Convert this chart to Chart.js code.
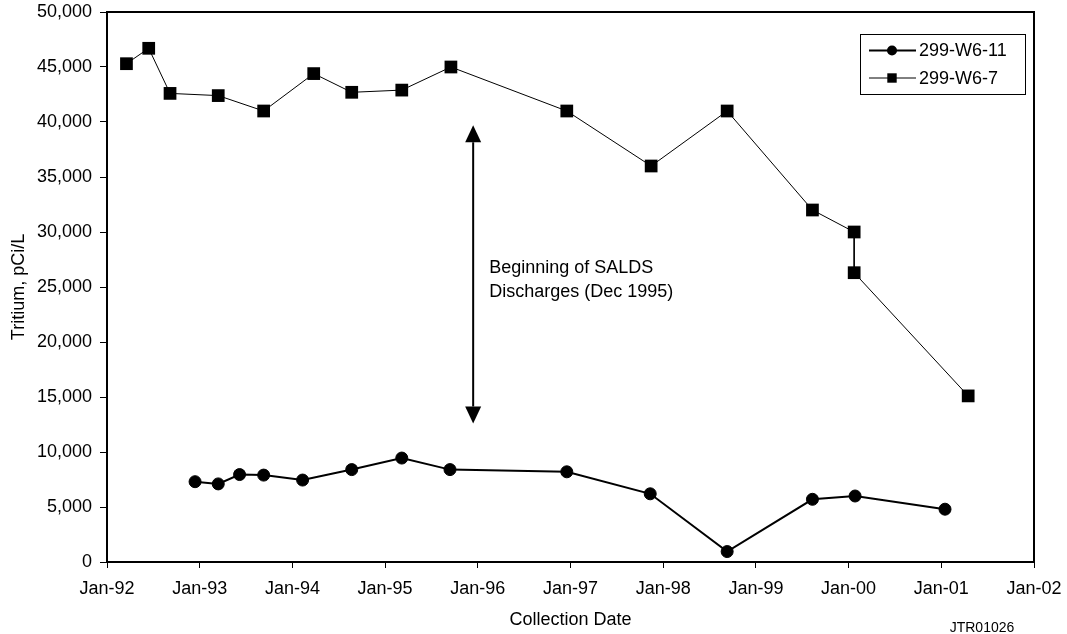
<!DOCTYPE html>
<html>
<head>
<meta charset="utf-8">
<script src="https://cdn.jsdelivr.net/npm/chart.js@4.4.1/dist/chart.umd.min.js"></script>
<style>
  html, body { margin: 0; padding: 0; background: #fff; }
  #wrap { position: relative; width: 1067px; height: 634px; }
  #tag {
    position: absolute; left: 940px; top: 618px; width: 84px;
    text-align: center; font: 14px Arial, 'Liberation Sans', sans-serif;
    line-height: 18px; color: #000;
  }
</style>
</head>
<body>
<div id="wrap">
  <canvas id="chart" width="1067" height="634"></canvas>
  <div id="tag">JTR01026</div>
</div>
<script>
// collection dates as decimal years, values in pCi/L
const w611Dates = [1992.95, 1993.20, 1993.43, 1993.69, 1994.11, 1994.64, 1995.18, 1995.70,
                   1996.96, 1997.86, 1998.69, 1999.61, 2000.07, 2001.04];
const w611Values = [7300, 7100, 7950, 7900, 7450, 8400, 9450, 8400,
                    8200, 6200, 950, 5700, 6000, 4800];

const w67Dates = [1992.21, 1992.45, 1992.68, 1993.20, 1993.69, 1994.23, 1994.64, 1995.18,
                  1995.71, 1996.96, 1997.87, 1998.69, 1999.61, 2000.06, 2000.06, 2001.29];
const w67Values = [45300, 46700, 42600, 42400, 41000, 44400, 42700, 42900,
                   45000, 41000, 36000, 41000, 32000, 30000, 26300, 15100];

const xTickLabels = ['Jan-92', 'Jan-93', 'Jan-94', 'Jan-95', 'Jan-96', 'Jan-97',
                     'Jan-98', 'Jan-99', 'Jan-00', 'Jan-01', 'Jan-02'];

// SALDS start marker
const arrowDate = 1995.95;
const arrowFrom = 12600;
const arrowTo = 39700;
const noteLines = ['Beginning of SALDS', 'Discharges (Dec 1995)'];
const noteValue = 26700;

const FONT = "Arial, 'Liberation Sans', sans-serif";

const toPoints = (xs, ys) => xs.map((x, i) => ({ x: x, y: ys[i] }));

const framePlugin = {
  id: 'frame',
  beforeDatasetsDraw(chart) {
    const { ctx, chartArea: a } = chart;
    ctx.save();
    ctx.strokeStyle = '#000';
    ctx.lineWidth = 2;
    ctx.strokeRect(a.left, a.top, a.right - a.left, a.bottom - a.top);
    ctx.restore();
  }
};

const arrowPlugin = {
  id: 'saldsArrow',
  afterDatasetsDraw(chart) {
    const { ctx, scales: { x, y } } = chart;
    const px = x.getPixelForValue(arrowDate);
    const yTop = y.getPixelForValue(arrowTo);
    const yBot = y.getPixelForValue(arrowFrom);
    const head = 17, half = 8;
    ctx.save();
    ctx.strokeStyle = '#000';
    ctx.fillStyle = '#000';
    ctx.lineWidth = 2;
    ctx.beginPath();
    ctx.moveTo(px, yTop + head);
    ctx.lineTo(px, yBot - head);
    ctx.stroke();
    ctx.beginPath();
    ctx.moveTo(px, yTop);
    ctx.lineTo(px - half, yTop + head);
    ctx.lineTo(px + half, yTop + head);
    ctx.closePath();
    ctx.fill();
    ctx.beginPath();
    ctx.moveTo(px, yBot);
    ctx.lineTo(px - half, yBot - head);
    ctx.lineTo(px + half, yBot - head);
    ctx.closePath();
    ctx.fill();

    ctx.font = '18px ' + FONT;
    ctx.textAlign = 'left';
    ctx.textBaseline = 'middle';
    const ty = y.getPixelForValue(noteValue);
    noteLines.forEach((t, i) => ctx.fillText(t, px + 16, ty + i * 24));
    ctx.restore();
  }
};

const legendPlugin = {
  id: 'boxLegend',
  afterDraw(chart) {
    const { ctx, chartArea: a } = chart;
    const w = 165, h = 60;
    const left = a.right - 9 - w, top = a.top + 22;
    ctx.save();
    ctx.fillStyle = '#fff';
    ctx.fillRect(left, top, w, h);
    ctx.strokeStyle = '#000';
    ctx.lineWidth = 1;
    ctx.strokeRect(left + 0.5, top + 0.5, w, h);

    chart.data.datasets.forEach((ds, i) => {
      const ry = top + 16.5 + i * 27.5;
      const mx = left + 32;
      ctx.lineWidth = ds.borderWidth;
      ctx.beginPath();
      ctx.moveTo(left + 9, ry);
      ctx.lineTo(left + 56, ry);
      ctx.stroke();
      ctx.fillStyle = '#000';
      ctx.beginPath();
      if (ds.pointStyle === 'circle') {
        ctx.arc(mx, ry, 5, 0, Math.PI * 2);
      } else {
        ctx.rect(mx - 4.7, ry - 4.7, 9.4, 9.4);
      }
      ctx.fill();
      ctx.font = '18px ' + FONT;
      ctx.textAlign = 'left';
      ctx.textBaseline = 'middle';
      ctx.fillText(ds.label, left + 59, ry + 1);
    });
    ctx.restore();
  }
};

new Chart(document.getElementById('chart'), {
  type: 'line',
  data: {
    datasets: [
      {
        label: '299-W6-11',
        data: toPoints(w611Dates, w611Values),
        borderColor: '#000',
        backgroundColor: '#000',
        borderWidth: 2,
        pointStyle: 'circle',
        pointRadius: 6,
        pointBorderWidth: 1,
        tension: 0
      },
      {
        label: '299-W6-7',
        data: toPoints(w67Dates, w67Values),
        borderColor: '#000',
        backgroundColor: '#000',
        borderWidth: 1,
        pointStyle: 'rect',
        pointRadius: 9,
        pointBorderWidth: 0,
        tension: 0
      }
    ]
  },
  options: {
    responsive: false,
    animation: false,
    layout: { padding: { top: 12, right: 33, left: 0, bottom: 0 } },
    plugins: {
      legend: { display: false },
      tooltip: { enabled: false }
    },
    scales: {
      x: {
        type: 'linear',
        min: 1992,
        max: 2002,
        afterFit: (s) => {
          s.height = 72;
          s.paddingLeft = 0;
          s.paddingRight = 0;
        },
        border: { display: false },
        grid: { drawOnChartArea: false, drawTicks: true, tickLength: 6, color: '#000', lineWidth: 1 },
        ticks: {
          stepSize: 1,
          padding: 10,
          color: '#000',
          font: { family: FONT, size: 18 },
          maxRotation: 0,
          callback: (v) => xTickLabels[Math.round(v - 1992)]
        },
        title: {
          display: true,
          text: 'Collection Date',
          color: '#000',
          font: { family: FONT, size: 18 },
          padding: { top: 0, bottom: 3 }
        }
      },
      y: {
        min: 0,
        max: 50000,
        afterFit: (s) => {
          s.width = 107;
          s.paddingTop = 0;
          s.paddingBottom = 0;
        },
        border: { display: false },
        grid: { drawOnChartArea: false, drawTicks: true, tickLength: 7, color: '#000', lineWidth: 1 },
        ticks: {
          stepSize: 5000,
          padding: 8,
          color: '#000',
          font: { family: FONT, size: 18 },
          callback: (v) => v.toLocaleString('en-US')
        },
        title: {
          display: true,
          text: 'Tritium, pCi/L',
          color: '#000',
          font: { family: FONT, size: 18 },
          padding: { top: 8, bottom: 0 }
        }
      }
    }
  },
  plugins: [framePlugin, arrowPlugin, legendPlugin]
});
</script>
</body>
</html>
